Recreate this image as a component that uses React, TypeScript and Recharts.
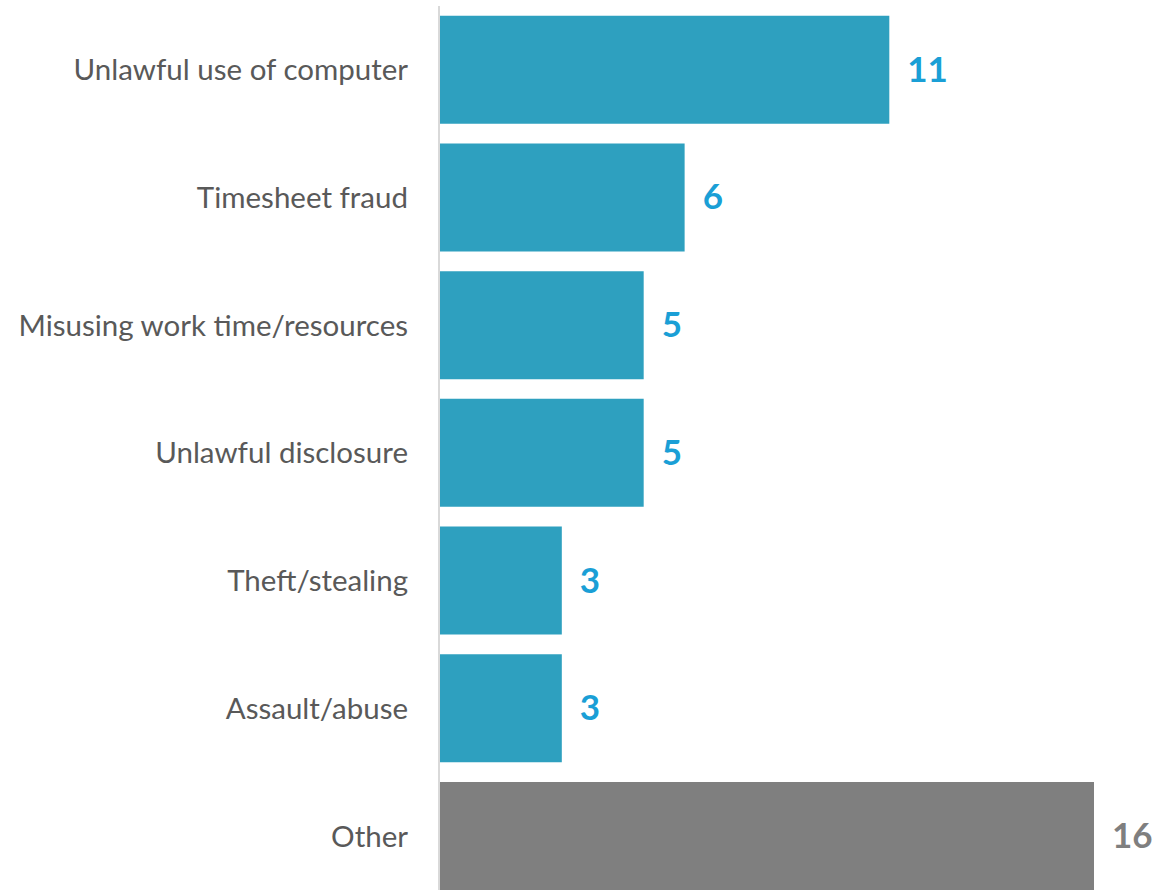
import { BarChart, Bar, XAxis, YAxis, Cell, LabelList } from 'recharts';

const categories = [
  'Unlawful use of computer',
  'Timesheet fraud',
  'Misusing work time/resources',
  'Unlawful disclosure',
  'Theft/stealing',
  'Assault/abuse',
  'Other',
];

const counts = [11, 6, 5, 5, 3, 3, 16];

const otherCategory = 'Other';

const BLUE_BAR = '#2EA0BF';
const GREY_BAR = '#7F7F7F';
const BLUE_TEXT = '#1A9FD6';
const GREY_TEXT = '#7F7F7F';

const data = categories.map((name, i) => ({ name, value: counts[i] }));

const renderValueLabel = (props: any) => {
  const { x, y, width, height, value, index } = props;
  const isOther = categories[index] === otherCategory;
  return (
    <text
      x={Number(x) + Number(width) + 18}
      y={Number(y) + Number(height) / 2}
      dy={12}
      fill={isOther ? GREY_TEXT : BLUE_TEXT}
      fontFamily="Lato"
      fontWeight={700}
      fontSize={35}
      textAnchor="start"
    >
      {value}
    </text>
  );
};

export default function App() {
  return (
    <div style={{ position: 'absolute', left: 0, top: 0, width: 1158, height: 900 }}>
      <BarChart
        width={1158}
        height={900}
        data={data}
        layout="vertical"
        margin={{ top: 6, right: 64, bottom: 0, left: 0 }}
        barCategoryGap="7.6%"
      >
        <XAxis type="number" domain={[0, 16]} hide />
        <YAxis
          type="category"
          dataKey="name"
          width={439}
          tickSize={0}
          tickMargin={31}
          axisLine={{ stroke: '#D9D9D9', strokeWidth: 2 }}
          tickLine={false}
          tick={{ fill: '#595959', fontSize: 29.5, fontFamily: 'Lato' }}
        />
        <Bar dataKey="value" isAnimationActive={false}>
          {data.map((d) => (
            <Cell key={d.name} fill={d.name === otherCategory ? GREY_BAR : BLUE_BAR} />
          ))}
          <LabelList dataKey="value" content={renderValueLabel} />
        </Bar>
      </BarChart>
    </div>
  );
}
